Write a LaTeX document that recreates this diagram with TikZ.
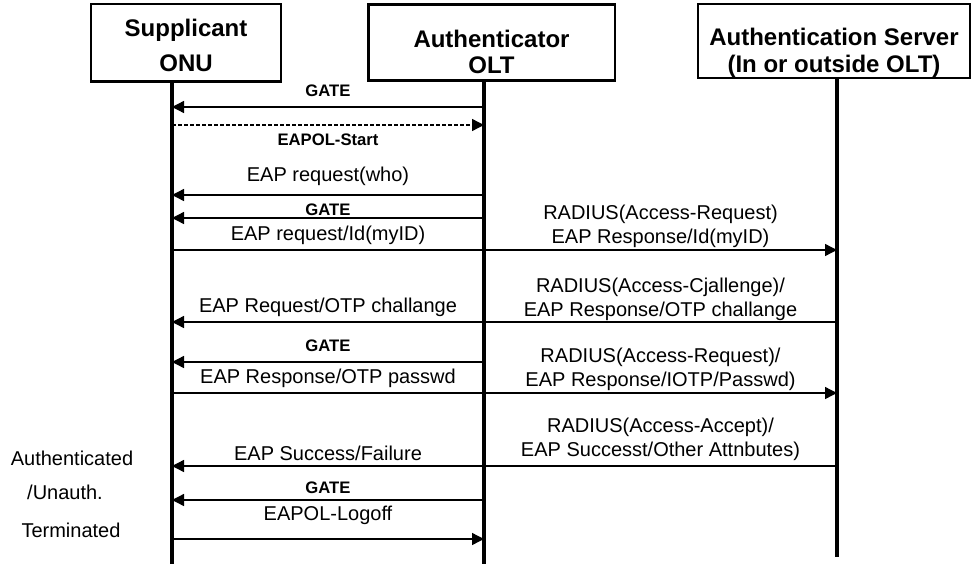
\documentclass[tikz,border=0pt]{standalone}
\usepackage{fontspec}
\setmainfont{Liberation Sans}
\usetikzlibrary{arrows.meta}

\begin{document}
\begin{tikzpicture}[x=0.75pt,y=-0.75pt]

% Diagram style
\tikzset{
    actor/.style={draw,line width=2pt,inner ysep=0pt,align=center,
        font=\fontsize{18}{20}\selectfont\bfseries},
    life/.style={line width=2.6pt},
    msg/.style={line width=1pt,-{Triangle[length=9pt,width=9pt]}},
    txt/.style={font=\fontsize{15}{18}\selectfont,align=center},
    gate/.style={font=\fontsize{12.5}{14}\selectfont\bfseries}
}

\useasboundingbox (0,0) rectangle (978,564);

% Actors
\node[actor,minimum width=142.5pt,minimum height=58pt] (onu) at (186,42.5){\rule{0pt}{18pt}Supplicant\\[6.25pt]ONU};
\node[actor,minimum width=185pt,minimum height=57pt] (olt) at (491.5,42.5){\rule{0pt}{27.3pt}Authenticator\\OLT};
\node[actor,minimum width=204pt,minimum height=55.5pt] (srv) at (834,41){\rule{0pt}{31pt}Authentication Server\\(In or outside OLT)};

% Lifelines
\coordinate (onuEnd) at (172,564);
\coordinate (oltEnd) at (484,564);
\coordinate (srvEnd) at (837,557);
\draw[life] (onu.south -| onuEnd) -- (onuEnd);
\draw[life] (olt.south -| oltEnd) -- (oltEnd);
\draw[life] (srv.south -| srvEnd) -- (srvEnd);

\foreach \n/\y in {gateA/107,start/125,who/195,gateB/218,myid/250,chal/322,
                   gateC/362,pass/393,succ/466,gateD/500,logoff/539}{
    \coordinate (onu-\n) at (172,\y);
    \coordinate (olt-\n) at (484,\y);
    \coordinate (srv-\n) at (837,\y);
}

% Messages
\draw[msg] (olt-gateA) -- node[gate,above=4pt]{GATE} (onu-gateA);
\draw[msg,dash pattern=on 3pt off 1.5pt] (onu-start) -- node[gate,below=3pt]{EAPOL-Start} (olt-start);
\draw[msg] (olt-who) -- node[txt,above=3pt]{EAP request(who)} (onu-who);
\draw[msg] (olt-gateB) -- node[gate,above=-2pt]{GATE} (onu-gateB);
\draw[msg] (onu-myid) -- node[txt,above]{EAP request/Id(myID)} (olt-myid)
    -- node[txt,above=-2pt]{RADIUS(Access-Request)\\EAP Response/Id(myID)} (srv-myid);
\draw[msg] (srv-chal) -- node[txt,above=-3pt]{RADIUS(Access-Cjallenge)/\\EAP Response/OTP challange} (olt-chal)
    -- node[txt,above]{EAP Request/OTP challange} (onu-chal);
\draw[msg] (olt-gateC) -- node[gate,above=4pt]{GATE} (onu-gateC);
\draw[msg] (onu-pass) -- node[txt,above]{EAP Response/OTP passwd} (olt-pass)
    -- node[txt,above=-2pt]{RADIUS(Access-Request)/\\EAP Response/IOTP/Passwd)} (srv-pass);
\draw[msg] (srv-succ) -- node[txt,above]{RADIUS(Access-Accept)/\\EAP Successt/Other Attnbutes)} (olt-succ)
    -- node[txt,above]{EAP Success/Failure} (onu-succ);
\draw[msg] (olt-gateD) -- node[gate,above=1pt]{GATE} (onu-gateD);
\draw[msg] (onu-logoff) -- node[txt,above=7pt]{EAPOL-Logoff} (olt-logoff);

% States
\node[txt] (authd) at (72,458){Authenticated};
\node[txt] (unauth) at (65,492){/Unauth.};
\node[txt] (term) at (71,530){Terminated};

\end{tikzpicture}
\end{document}
